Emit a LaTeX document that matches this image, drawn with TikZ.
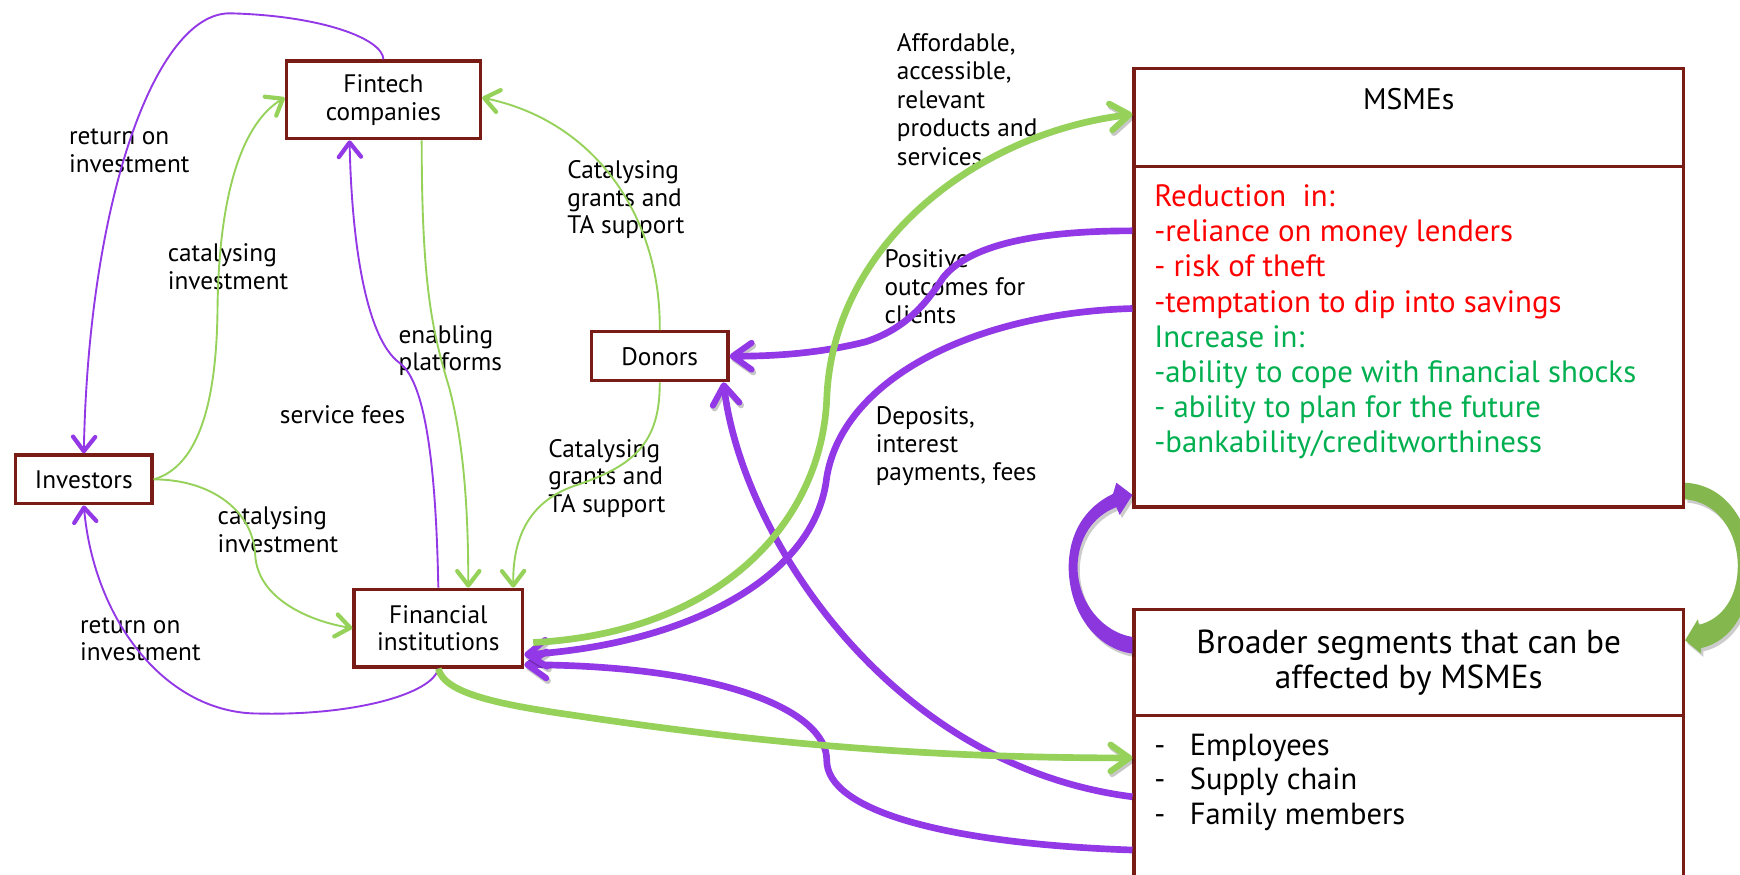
\documentclass[tikz,border=0pt]{standalone}
\usepackage{fontspec}
\setmainfont{PT Sans}
\usetikzlibrary{arrows.meta,calc}
\definecolor{boxred}{RGB}{122,28,22}
\definecolor{vio}{RGB}{147,56,230}
\definecolor{lgreen}{RGB}{150,210,90}
\definecolor{txtred}{RGB}{255,0,0}
\definecolor{txtgreen}{RGB}{0,176,80}
\definecolor{ribgreen}{RGB}{132,184,78}
\definecolor{ribvio}{RGB}{140,55,222}
\begin{document}
\begin{tikzpicture}[x=1pt,y=-1pt,
  box/.style={draw=boxred, line width=3pt, fill=white, inner sep=2pt, align=center, font=\fontsize{22.8}{25}\selectfont},
  lbl/.style={anchor=west, align=left, inner sep=0pt, font=\fontsize{22.8}{25}\selectfont},
  thinv/.style={line width=1.7pt, draw=vio, -{Straight Barb[length=13pt,width=20pt,line width=3.8pt,round]}},
  thing/.style={line width=1.7pt, draw=lgreen, -{Straight Barb[length=13pt,width=20pt,line width=3.8pt,round]}},
  shad/.style={preaction={draw=black, draw opacity=0.22, transform canvas={shift={(1.5pt,-2.5pt)}}}},
  thickv/.style={shad, line width=6pt, draw=vio, -{Straight Barb[length=17pt,width=24pt,line width=5.5pt,round]}},
  thickg/.style={shad, line width=6pt, draw=lgreen, -{Straight Barb[length=17pt,width=24pt,line width=5.5pt,round]}},
  ribshad/.style={preaction={fill=black, fill opacity=0.2, transform canvas={shift={(2pt,-3pt)}}}}
]
\fill[white] (0,0) rectangle (1568,788);
\useasboundingbox (0,0) rectangle (1568,788);

% labels
\node[lbl] (l1) at (62,136) {return on\\investment};
\node[lbl] (l2) at (151,240.5) {catalysing\\investment};
\node[lbl] (l3) at (252,374) {service fees};
\node[lbl] (l4) at (359,316) {enabling\\platforms};
\node[lbl] (l5) at (511,180) {Catalysing\\grants and\\TA support};
\node[lbl] (l6) at (196,477.5) {catalysing\\investment};
\node[lbl] (l7) at (72,576) {return on\\investment};
\node[lbl] (l8) at (494,431) {Catalysing\\grants and\\TA support};
\node[lbl, font=\fontsize{22.8}{25.75}\selectfont] (l9) at (808,89.5) {Affordable,\\accessible,\\relevant\\products and\\services};
\node[lbl] (l10) at (797,258.5) {Positive\\outcomes for\\clients};
\node[lbl] (l11) at (789,402) {Deposits,\\interest\\payments, fees};

% boxes
\node[box, minimum width=175pt, minimum height=70pt] (fintech) at (345.5,90) {Fintech\\companies};
\node[box, minimum width=123pt, minimum height=44pt] (investors) at (75.5,432) {Investors};
\node[box, minimum width=152pt, minimum height=70pt] (fininst) at (395,566) {Financial\\institutions};
\node[box, minimum width=123pt, minimum height=44pt] (donors) at (594.5,321) {Donors};
\node[box, minimum width=495pt, minimum height=88pt] (msmehead) at (1269.5,106) {};
\node[box, minimum width=495pt, minimum height=307pt] (msmebody) at (1269.5,303.5) {};
\node[box, minimum width=495pt, minimum height=96pt, font=\fontsize{30}{32}\selectfont] (bhead) at (1269.5,597) {Broader segments that can be\\affected by MSMEs};
\node[box, minimum width=495pt, minimum height=160pt] (bbody) at (1269.5,725) {};

\node[inner sep=0pt, font=\fontsize{26.8}{32}\selectfont] (msmetitle) at (1269.5,89) {MSMEs};
\node[lbl, text=txtred, font=\fontsize{27.8}{31.6}\selectfont] (msmetext) at (1040,290)
  {Reduction\ \ in:\\-reliance on money lenders\\- risk of theft\\-temptation to dip into savings\\
   \textcolor{txtgreen}{Increase in:}\\\textcolor{txtgreen}{-ability to cope with financial shocks}\\
   \textcolor{txtgreen}{- ability to plan for the future}\\\textcolor{txtgreen}{-bankability/creditworthiness}};
\node[lbl, font=\fontsize{27.5}{31}\selectfont] (blist) at (1040,705)
  {\makebox[32pt][l]{-}Employees\\\makebox[32pt][l]{-}Supply chain\\\makebox[32pt][l]{-}Family members};

% thin connectors
\draw[thinv] (fintech.north) .. controls (345,35) and (290,14) .. (207,12) .. controls (140,12) and (80,180) .. (investors.north);
\draw[thinv] (fininst.south) .. controls (390,625) and (320,645) .. (233,643) .. controls (150,643) and (85,560) .. (investors.south);
\draw[thinv] (fininst.north) .. controls (393,430) and (385,345) .. (360,327) .. controls (330,305) and (317,220) .. ([xshift=-30.5pt]fintech.south);
\draw[thing] (investors.east) .. controls (180,420) and (195,360) .. (196,280) .. controls (197,170) and (220,110) .. ([yshift=2pt]fintech.west);
\draw[thing] (investors.east) .. controls (190,432) and (228,460) .. (230,500) .. controls (232,540) and (280,560) .. (fininst.west);
\draw[thing] ([xshift=34.5pt]fintech.south) .. controls (380,260) and (390,300) .. (405,350) .. controls (418,400) and (422,460) .. ([xshift=27pt]fininst.north);
\draw[thing] (donors.north) .. controls (596,200) and (540,110) .. ([yshift=2pt]fintech.east);
\draw[thing] (donors.south) .. controls (595,400) and (570,420) .. (520,437) .. controls (480,450) and (462,480) .. ([xshift=67.5pt]fininst.north);

% thick connectors
\draw[thickv] ([yshift=7pt]bbody.west) .. controls (800,690) and (668,480) .. ([xshift=57.5pt]donors.south);
\draw[thickv] ([yshift=-41pt]bbody.west) .. controls (850,760) and (745,730) .. (745,685) .. controls (745,640) and (650,600) .. ([yshift=-33pt]fininst.east);
\draw[thickv] ([yshift=25.5pt]msmebody.west) .. controls (880,282) and (760,340) .. (745,430) .. controls (735,520) and (620,580) .. ([yshift=-24pt]fininst.east);
\draw[thickv] ([yshift=95.5pt]msmebody.west) .. controls (920,208) and (870,225) .. (850,250) .. controls (838,268) and (820,295) .. (780,308) .. controls (740,318) and (700,321) .. (donors.east);
\draw[thickg] ([xshift=8pt,yshift=-13pt]fininst.east) .. controls (650,570) and (740,470) .. (745,360) .. controls (750,220) and (880,120) .. ([yshift=3pt]msmehead.west);
\draw[thickg] (fininst.south) .. controls (400,625) and (450,635) .. (520,645) .. controls (700,672) and (850,683) .. ([yshift=42pt]bbody.west);

% ribbon arrows between the two right boxes
\fill[ribvio, ribshad] ([yshift=-142.5pt]msmebody.west) -- (1006,435) -- (1003,445)
   .. controls (978,457) and (963,480) .. (963,512)
   .. controls (964,555) and (990,585) .. ([yshift=8pt]bhead.west)
   -- ([yshift=23pt]bhead.west)
   .. controls (995,570) and (972,545) .. (971,512)
   .. controls (971,485) and (985,465) .. (1006,457) -- (1009,464) -- cycle;
\fill[ribgreen, ribshad] ([yshift=-131.5pt]msmebody.east)
   .. controls (1558,437) and (1578,475) .. (1578,510)
   .. controls (1578,550) and (1560,578) .. (1533,584) -- (1533,589)
   -- ([yshift=20pt]bhead.east) -- (1530,558) -- (1531,563)
   .. controls (1552,558) and (1566,538) .. (1566,510)
   .. controls (1566,480) and (1548,452) .. ([yshift=-146.5pt]msmebody.east) -- cycle;
\end{tikzpicture}
\end{document}
